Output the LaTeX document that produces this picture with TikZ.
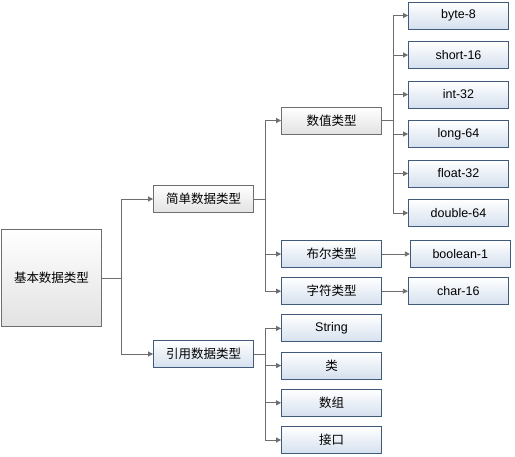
\documentclass[tikz,border=0pt]{standalone}
\usepackage{fontspec}
\setmainfont{Liberation Sans}
\newfontfamily\cjk{Noto Sans CJK SC}
\usetikzlibrary{positioning,arrows.meta}

\definecolor{linegray}{HTML}{6E6E6E}
\definecolor{boxblue}{HTML}{41597A}
\definecolor{fillblue}{HTML}{D5E0EE}
\definecolor{fillgray}{HTML}{E2E2E2}

\tikzset{
	box/.style={draw=linegray,line width=0.8pt,top color=white,bottom color=fillgray,
		minimum width=100pt,minimum height=27pt,inner sep=0pt,
		font=\fontsize{12.5}{14}\selectfont},
	bluebox/.style={box,draw=boxblue,bottom color=fillblue},
	zh/.style={font=\cjk\fontsize{12.5}{14}\selectfont},
	fork/.style={to path={-- ++(#1,0) |- (\tikztotarget)}},
	every edge/.style={draw=linegray,line width=0.8pt},
}

\begin{document}
\begin{tikzpicture}[x=1pt,y=1pt,>={Triangle[length=5pt,width=5pt]},node distance=9.4pt and 26pt]

\useasboundingbox (0,0) rectangle (515,-457);

\node [box,zh,minimum height=97pt] (base) at (51.5,-278) {基本数据类型};
\node [box,zh] (simple) at (203.5,-199) {简单数据类型};
\node [bluebox,zh] (ref) at (203.5,-354) {引用数据类型};

\node [box,zh] (num) at (331.5,-120.5) {数值类型};
\node [bluebox,zh] (bool) at (331.5,-254) {布尔类型};
\node [bluebox,zh] (chr) [below=of bool] {字符类型};
\node [bluebox] (str) [below=of chr] {String};
\node [bluebox,zh] (cls) [below=of str] {类};
\node [bluebox,zh] (arr) [below=of cls] {数组};
\node [bluebox,zh] (intf) [below=of arr] {接口};

\node [bluebox] (byte) at (458.5,-15.5) {byte-8};
\node [bluebox] (short) [below=11.7pt of byte] {short-16};
\node [bluebox] (int) [below=11.7pt of short] {int-32};
\node [bluebox] (long) [below=11.7pt of int] {long-64};
\node [bluebox] (float) [below=11.7pt of long] {float-32};
\node [bluebox] (double) [below=11.7pt of float] {double-64};
\node [bluebox] (boolean) [right=28pt of bool] {boolean-1};
\node [bluebox] (char) [right=of chr] {char-16};

\path [->]
	(base.east)
		edge [fork=19.5] (simple)
		edge [fork=19.5] (ref)
	(simple.east)
		edge [fork=11] (num)
		edge [fork=11] (bool)
		edge [fork=11] (chr)
	(ref.east)
		edge [fork=11] (str)
		edge [fork=11] (cls)
		edge [fork=11] (arr)
		edge [fork=11] (intf)
	(num.east)
		edge [fork=11] (byte)
		edge [fork=11] (short)
		edge [fork=11] (int)
		edge [fork=11] (long)
		edge [fork=11] (float)
		edge [fork=11] (double)
	(bool) edge (boolean)
	(chr) edge (char)
;

\end{tikzpicture}
\end{document}
